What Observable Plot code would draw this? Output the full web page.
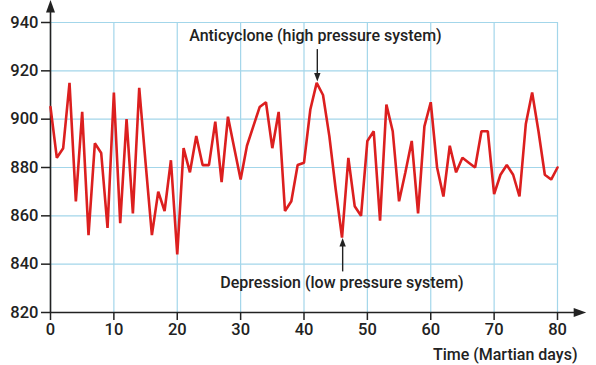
<!DOCTYPE html>
<html>
<head>
<meta charset="utf-8">
<script src="https://cdn.jsdelivr.net/npm/d3@7"></script>
<script src="https://cdn.jsdelivr.net/npm/@observablehq/plot@0.6"></script>
<style>
  html, body { margin: 0; padding: 0; background: #fff; }
  #chart { width: 596px; height: 365px; }
</style>
</head>
<body>
<div id="chart"></div>
<script>
// Martian surface pressure over time (Martian days)
const days = d3.range(0, 81);
const pressure = [
  905, 884, 888, 915, 866, 903, 852, 890, 886, 855,
  911, 857, 900, 861, 913, 882, 852, 870, 862, 883,
  844, 888, 878, 893, 881, 881, 899, 874, 901, 888,
  875, 889, 897, 905, 907, 888, 903, 862, 866, 881,
  882, 904, 915, 910, 893, 871, 851, 884, 864, 860,
  891, 895, 858, 906, 895, 866, 878, 891, 861, 897,
  907, 880, 868, 889, 878, 884, 882, 880, 895, 895,
  869, 877, 881, 877, 868, 898, 911, 895, 877, 875,
  880
];
const xTicks = [0, 10, 20, 30, 40, 50, 60, 70, 80];
const yTicks = [820, 840, 860, 880, 900, 920, 940];
const xLabel = "Time (Martian days)";
const notes = [
  {label: "Anticyclone (high pressure system)", x: 41.8, y: 934.3, x0: 42.1, from: 929, to: 917.5, dir: "down"},
  {label: "Depression (low pressure system)", x: 46.0, y: 832.1, x0: 46.1, from: 837, to: 849, dir: "up"}
];

const series = days.map((d, i) => ({day: d, p: pressure[i]}));

const ink = "#222";
const gridColor = "#a3d6ea";
const red = "#dc1f1f";

// filled arrowhead symbols (pointing up; rotate for other directions)
const bigHead = {draw(ctx) { ctx.moveTo(0, -6.5); ctx.lineTo(4.5, 6); ctx.lineTo(-4.5, 6); ctx.closePath(); }};
const smallHead = {draw(ctx) { ctx.moveTo(0, -4.5); ctx.lineTo(3.2, 4); ctx.lineTo(-3.2, 4); ctx.closePath(); }};

const chart = Plot.plot({
  width: 596,
  height: 365,
  marginLeft: 50,
  marginRight: 39,
  marginTop: 22,
  marginBottom: 53,
  style: {fontFamily: "Roboto, 'Liberation Sans', sans-serif", fontSize: "16px", color: ink, background: "#fff"},
  x: {domain: [0, 80]},
  y: {domain: [820, 940]},
  marks: [
    Plot.gridX(xTicks, {stroke: gridColor, strokeOpacity: 1, strokeWidth: 1.2}),
    Plot.gridY(yTicks, {stroke: gridColor, strokeOpacity: 1, strokeWidth: 1.2}),
    Plot.axisY(yTicks, {tickSize: 9, tickPadding: 3, label: null, fontSize: 16.5, fontWeight: 500, stroke: ink, strokeWidth: 1.5, fill: ink}),
    Plot.axisX(xTicks, {tickSize: 8, tickPadding: 3, label: null, fontSize: 16.5, fontWeight: 500, stroke: ink, strokeWidth: 1.5, fill: ink}),
    // axis lines with arrowheads
    Plot.ruleX([0], {y1: 820, y2: 945, stroke: ink, strokeWidth: 1.6}),
    Plot.ruleY([820], {x1: 0, x2: 83, stroke: ink, strokeWidth: 1.6}),
    Plot.dot([{x: 0, y: 946.6}], {x: "x", y: "y", symbol: bigHead, fill: ink, stroke: null}),
    Plot.dot([{x: 83.5, y: 820}], {x: "x", y: "y", symbol: bigHead, fill: ink, stroke: null, rotate: 90}),
    // data line
    Plot.line(series, {x: "day", y: "p", stroke: red, strokeWidth: 2.6, strokeLinejoin: "miter"}),
    // annotations
    Plot.text(notes, {x: "x", y: "y", text: "label", fontSize: 16, fontWeight: 500, fill: ink, textAnchor: "middle"}),
    Plot.link(notes, {x1: "x0", x2: "x0", y1: "from", y2: "to", stroke: ink, strokeWidth: 1.4}),
    Plot.dot(notes, {x: "x0", y: "to", symbol: smallHead, fill: ink, stroke: null, rotate: d => d.dir === "down" ? 180 : 0}),
    // x axis title
    Plot.text([xLabel], {frameAnchor: "bottom-right", dx: 20, dy: 42, lineAnchor: "middle", text: d => d, fontSize: 16, fontWeight: 500, fill: ink, textAnchor: "end"})
  ]
});
document.getElementById("chart").appendChild(chart);
</script>
</body>
</html>
